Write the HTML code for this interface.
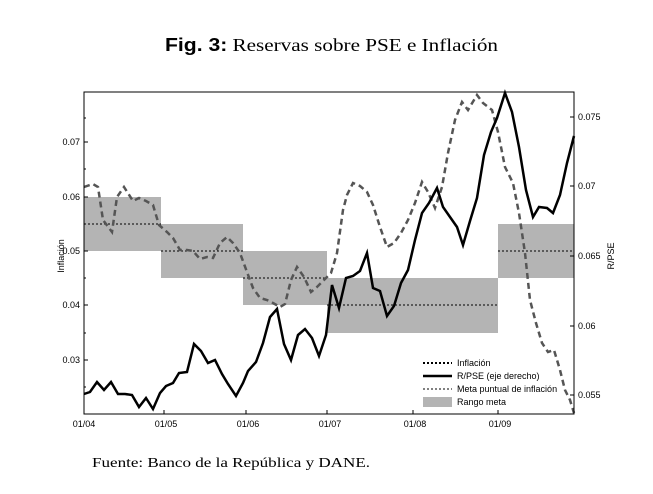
<!DOCTYPE html>
<html><head><meta charset="utf-8"><style>
html,body{margin:0;padding:0;background:#fff;}
body{width:653px;height:489px;overflow:hidden;}
</style></head><body>
<svg width="653" height="489" viewBox="0 0 653 489" xmlns="http://www.w3.org/2000/svg">
<text x="165" y="51" font-size="18" textLength="333" lengthAdjust="spacingAndGlyphs"><tspan font-family="Liberation Sans, sans-serif" font-weight="bold">Fig. 3:</tspan><tspan font-family="Liberation Serif, serif"> Reservas sobre PSE e Inflación</tspan></text>
<text x="92" y="467" font-size="14" font-family="Liberation Serif, serif" textLength="278" lengthAdjust="spacingAndGlyphs">Fuente: Banco de la República y DANE.</text>
<g fill="#b4b4b4">
<rect x="84" y="197" width="77" height="54"/>
<rect x="161" y="224" width="82" height="54"/>
<rect x="243" y="251" width="84" height="54"/>
<rect x="327" y="278" width="171" height="55"/>
<rect x="498" y="224" width="76" height="54"/>
</g>
<g stroke="#000" stroke-width="1" stroke-dasharray="2,2" fill="none">
<line x1="84" y1="224" x2="161" y2="224"/>
<line x1="161" y1="251" x2="243" y2="251"/>
<line x1="243" y1="278" x2="327" y2="278"/>
<line x1="327" y1="305" x2="498" y2="305"/>
<line x1="498" y1="251" x2="574" y2="251"/>
</g>
<polyline fill="none" stroke="#555" stroke-width="2.5" stroke-dasharray="6,4" points="84,187 93,184 98,187 103,220 112,232 117,197 124,187 133,201 139,198 146,201 153,205 159,225 167,232 173,238 180,250 187,250 193,251 200,259 207,257 213,258 220,243 227,237 233,243 240,253 247,272 253,288 260,298 267,300 273,303 280,307 285,304 291,280 297,267 304,277 311,292 317,287 324,280 331,273 337,253 343,210 347,195 353,183 360,186 367,192 373,205 380,227 387,247 394,243 401,233 408,220 415,203 422,182 428,192 435,208 442,187 448,153 455,120 462,102 468,110 477,95 483,103 492,110 498,132 505,167 513,183 519,213 525,253 530,300 536,323 542,343 548,352 554,350 560,370 565,390 570,400 574,413"/>
<polyline fill="none" stroke="#000" stroke-width="2.5" points="84,394 90,392 97,382 104,390 111,382 118,394 125,394 132,395 139,407 146,398 153,409 160,393 166,386 173,383 179,373 187,372 194,344 201,351 208,363 215,360 222,374 228,384 236,396 243,383 248,371 256,362 263,343 270,317 277,309 284,344 291,360 298,335 305,329 312,338 319,356 326,335 332,285 339,308 346,278 353,276 360,271 367,253 373,288 380,291 387,316 394,306 401,283 408,270 415,240 422,213 429,203 437,188 443,207 450,217 457,227 463,245 470,221 477,198 484,155 491,132 497,118 505,93 512,112 519,147 526,190 533,217 539,207 547,208 553,213 560,195 567,163 574,136"/>
<rect x="84" y="92" width="490" height="322" fill="none" stroke="#000" stroke-width="1"/>
<g stroke="#000" stroke-width="1">
<line x1="84" y1="142" x2="88" y2="142"/><line x1="84" y1="197" x2="88" y2="197"/><line x1="84" y1="251" x2="88" y2="251"/><line x1="84" y1="305" x2="88" y2="305"/><line x1="84" y1="360" x2="88" y2="360"/>
<line x1="84" y1="118" x2="86" y2="118"/><line x1="84" y1="169" x2="86" y2="169"/><line x1="84" y1="224" x2="86" y2="224"/><line x1="84" y1="278" x2="86" y2="278"/><line x1="84" y1="333" x2="86" y2="333"/><line x1="84" y1="387" x2="86" y2="387"/>
<line x1="574" y1="117" x2="570" y2="117"/><line x1="574" y1="186" x2="570" y2="186"/><line x1="574" y1="256" x2="570" y2="256"/><line x1="574" y1="326" x2="570" y2="326"/><line x1="574" y1="395" x2="570" y2="395"/>
<line x1="164" y1="414" x2="164" y2="410"/><line x1="246" y1="414" x2="246" y2="410"/><line x1="327" y1="414" x2="327" y2="410"/><line x1="413" y1="414" x2="413" y2="410"/><line x1="498" y1="414" x2="498" y2="410"/>
</g>
<g font-family="Liberation Sans, sans-serif" font-size="9" fill="#000">
<text x="80" y="145" text-anchor="end">0.07</text>
<text x="80" y="200" text-anchor="end">0.06</text>
<text x="80" y="254" text-anchor="end">0.05</text>
<text x="80" y="308" text-anchor="end">0.04</text>
<text x="80" y="363" text-anchor="end">0.03</text>
<text x="578" y="120">0.075</text>
<text x="578" y="189">0.07</text>
<text x="578" y="259">0.065</text>
<text x="578" y="329">0.06</text>
<text x="578" y="398">0.055</text>
<text x="84" y="427" text-anchor="middle">01/04</text>
<text x="166" y="427" text-anchor="middle">01/05</text>
<text x="248" y="427" text-anchor="middle">01/06</text>
<text x="330" y="427" text-anchor="middle">01/07</text>
<text x="415" y="427" text-anchor="middle">01/08</text>
<text x="500" y="427" text-anchor="middle">01/09</text>
<text transform="translate(64,256) rotate(-90)" text-anchor="middle">Inflación</text>
<text transform="translate(614,256) rotate(-90)" text-anchor="middle">R/PSE</text>
<text x="457" y="366">Inflación</text>
<text x="457" y="379">R/PSE (eje derecho)</text>
<text x="457" y="392">Meta puntual de inflación</text>
<text x="457" y="405">Rango meta</text>
</g>
<line x1="423" y1="363" x2="452" y2="363" stroke="#000" stroke-width="2" stroke-dasharray="2,2"/>
<line x1="423" y1="376" x2="452" y2="376" stroke="#000" stroke-width="2.5"/>
<line x1="423" y1="389" x2="452" y2="389" stroke="#000" stroke-width="1" stroke-dasharray="2,2"/>
<rect x="423" y="397" width="29" height="10" fill="#b4b4b4"/>
</svg>
</body></html>
